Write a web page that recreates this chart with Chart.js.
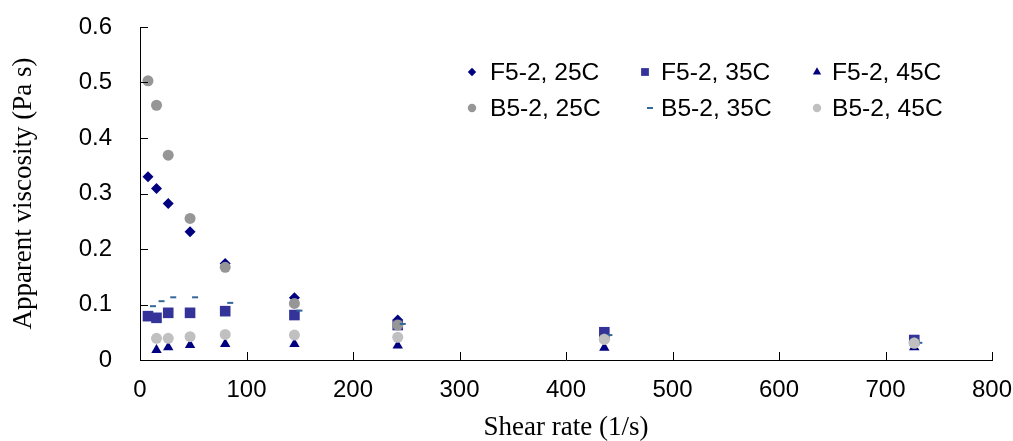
<!DOCTYPE html>
<html>
<head>
<meta charset="utf-8">
<title>Apparent viscosity vs shear rate</title>
<script src="https://cdn.jsdelivr.net/npm/chart.js@4.4.1/dist/chart.umd.min.js"></script>
<style>
    html, body { margin: 0; padding: 0; background: #fff; }
    #wrap { width: 1013px; height: 441px; position: relative; }
</style>
</head>
<body>
<div id="wrap"><canvas id="viscChart"></canvas></div>
<script>
// Measured shear rates (1/s)
const shearRate = [7.5, 15.5, 26.5, 47, 80, 145, 242, 436, 727];

// Apparent viscosity (Pa s), null = not measured
const f25 = [0.330, 0.309, 0.282, 0.231, 0.174, 0.112, 0.072, 0.046, 0.034];
const f35 = [0.079, 0.076, 0.085, 0.085, 0.088, 0.081, 0.063, 0.050, 0.036];
const f45 = [null, 0.018, 0.023, 0.027, 0.029, 0.029, 0.026, 0.022, 0.023];
const b25 = [0.503, 0.459, 0.369, 0.255, 0.167, 0.102, 0.063, 0.038, 0.031];
const b35 = [0.097, 0.106, 0.113, 0.113, 0.103, 0.089, 0.065, 0.045, 0.031];
const b45 = [null, 0.039, 0.039, 0.042, 0.046, 0.045, 0.041, 0.037, 0.030];

const seriesNames = ['F5-2, 25C', 'F5-2, 35C', 'F5-2, 45C', 'B5-2, 25C', 'B5-2, 35C', 'B5-2, 45C'];

const xTickLabels = ['0', '100', '200', '300', '400', '500', '600', '700', '800'];
const yTickLabels = ['0', '0.1', '0.2', '0.3', '0.4', '0.5', '0.6'];

function toPoints(values) {
    return shearRate
        .map((x, i) => ({ x: x, y: values[i] }))
        .filter(p => p.y !== null);
}

// short horizontal dash, drawn a little to the right of the point
function makeDash(color) {
    const c = document.createElement('canvas');
    c.width = 22;
    c.height = 4;
    const g = c.getContext('2d');
    g.fillStyle = color;
    g.fillRect(13, 1, 6, 2);
    return c;
}
const dashMark = makeDash('#336699');

const markerStyles = [
    { color: '#000080', style: 'rectRot', radius: 5.5, legendRadius: 4.2 },
    { color: '#333399', style: 'rect', radius: 7.5, legendRadius: 5.5 },
    { color: '#000080', style: 'triangle', radius: 6, legendRadius: 4.8 },
    { color: '#969696', style: 'circle', radius: 5.5, legendRadius: 4.2 },
    { color: '#336699', style: dashMark, radius: 5, legendRadius: 5 },
    { color: '#c0c0c0', style: 'circle', radius: 5.5, legendRadius: 4.2 }
];

const seriesValues = [f25, f35, f45, b25, b35, b45];

const datasets = seriesValues.map((vals, i) => ({
    label: seriesNames[i],
    data: toPoints(vals),
    pointStyle: markerStyles[i].style,
    pointRadius: markerStyles[i].radius,
    pointHoverRadius: markerStyles[i].radius,
    backgroundColor: markerStyles[i].color,
    borderColor: markerStyles[i].color,
    pointBorderWidth: 0,
    showLine: false,
    order: seriesValues.length - i // later series sit on top
}));

// inward tick marks on both axes
const insideTicks = {
    id: 'insideTicks',
    afterDraw(chart) {
        const { ctx, scales: { x, y }, chartArea } = chart;
        ctx.save();
        ctx.strokeStyle = '#000';
        ctx.lineWidth = 1;
        ctx.beginPath();
        x.ticks.forEach(t => {
            const px = Math.round(x.getPixelForValue(t.value)) + 0.5;
            ctx.moveTo(px, chartArea.bottom);
            ctx.lineTo(px, chartArea.bottom - 8);
        });
        y.ticks.forEach(t => {
            const py = Math.round(y.getPixelForValue(t.value)) + 0.5;
            ctx.moveTo(chartArea.left, py);
            ctx.lineTo(chartArea.left + 8, py);
        });
        ctx.stroke();
        ctx.restore();
    }
};

// two-row, three-column legend inside the plot
const gridLegend = {
    id: 'gridLegend',
    afterDraw(chart) {
        const { ctx } = chart;
        const colMarker = [472, 645, 817];
        const colText = [490, 661, 832];
        const rowY = [72, 108];
        ctx.save();
        ctx.font = '24.6px "Liberation Sans", Arial, sans-serif';
        ctx.textBaseline = 'middle';
        ctx.textAlign = 'left';
        seriesNames.forEach((name, i) => {
            const col = i % 3;
            const row = Math.floor(i / 3);
            const m = markerStyles[i];
            ctx.fillStyle = m.color;
            Chart.helpers.drawPoint(ctx, {
                pointStyle: m.style,
                radius: m.legendRadius,
                rotation: 0,
                borderWidth: 0
            }, colMarker[col], rowY[row]);
            ctx.fillStyle = '#000';
            ctx.fillText(name, colText[col], rowY[row] + 1);
        });
        ctx.restore();
    }
};

const ctx = document.getElementById('viscChart').getContext('2d');

new Chart(ctx, {
    type: 'scatter',
    data: { datasets: datasets },
    options: {
        responsive: true,
        maintainAspectRatio: false,
        animation: false,
        layout: {
            padding: { top: 27, right: 21, left: 0, bottom: 0 }
        },
        plugins: {
            legend: { display: false },
            tooltip: { enabled: false }
        },
        scales: {
            x: {
                type: 'linear',
                min: 0,
                max: 800,
                afterFit: scale => {
                    scale.height = 81;
                    scale.paddingLeft = 0;
                    scale.paddingRight = 0;
                },
                afterBuildTicks: scale => {
                    scale.ticks = xTickLabels.map(v => ({ value: Number(v) }));
                },
                grid: { display: false },
                border: { display: true, color: '#000', width: 1 },
                ticks: {
                    color: '#000',
                    padding: 8,
                    maxRotation: 0,
                    font: { family: '"Liberation Sans", Arial, sans-serif', size: 24 },
                    callback: (value, index) => xTickLabels[index]
                },
                title: {
                    display: true,
                    text: 'Shear rate (1/s)',
                    color: '#000',
                    padding: { top: 0, bottom: 0 },
                    font: { family: '"Liberation Serif", "Times New Roman", serif', size: 27, lineHeight: 1 }
                }
            },
            y: {
                type: 'linear',
                min: 0,
                max: 0.6,
                afterFit: scale => {
                    scale.width = 140;
                    scale.paddingTop = 0;
                    scale.paddingBottom = 0;
                },
                afterBuildTicks: scale => {
                    scale.ticks = yTickLabels.map(v => ({ value: Number(v) }));
                },
                grid: { display: false },
                border: { display: true, color: '#000', width: 1 },
                ticks: {
                    color: '#000',
                    padding: 20,
                    font: { family: '"Liberation Sans", Arial, sans-serif', size: 24 },
                    callback: (value, index) => yTickLabels[index]
                },
                title: {
                    display: true,
                    text: 'Apparent viscosity (Pa s)',
                    color: '#000',
                    padding: { top: 10, bottom: 0 },
                    font: { family: '"Liberation Serif", "Times New Roman", serif', size: 27, lineHeight: 1 }
                }
            }
        }
    },
    plugins: [insideTicks, gridLegend]
});
</script>
</body>
</html>
